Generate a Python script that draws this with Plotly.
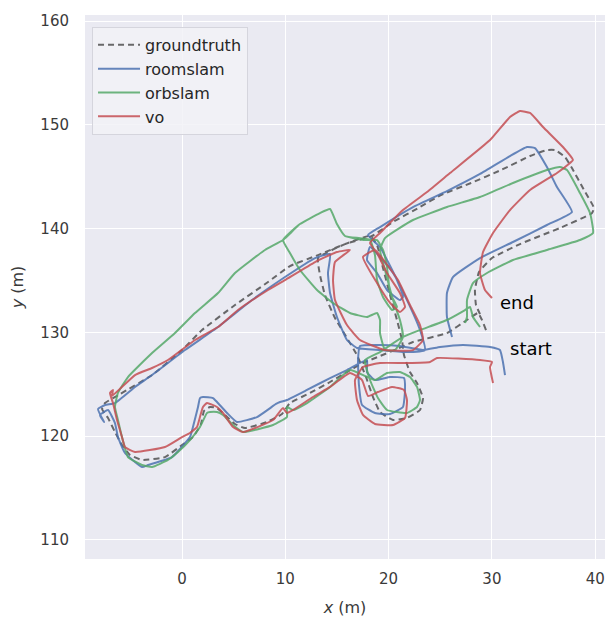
import plotly.graph_objects as go

# Trajectories in metres (x, y)
gt_x = [29.43, 29.04, 28.65, 27.59, 25.65, 22.36, 20.81, 19.17, 17.52, 15.97, 14.33, 12.39, 10.45, 9.68, 8.23, 6.10, 5.13, 4.16, 3.39, 2.71, 2.13, 1.84, 1.06, 0.00, -1.65, -3.87, -5.03, -5.81, -6.49, -7.16, -7.74, -7.45, -6.00, -2.90, 0.00, 1.94, 5.13, 8.33, 10.45, 13.17, 15.78, 18.20, 18.88, 19.46, 20.14, 20.81, 21.30, 21.49, 22.07, 22.75, 23.33, 23.04, 21.78, 20.43, 19.17, 18.49, 17.81, 16.94, 15.97, 14.81, 13.84, 13.36, 13.17, 15.78, 18.39, 20.43, 23.04, 25.07, 27.98, 30.88, 33.69, 35.33, 36.11, 37.08, 37.75, 38.92, 39.88, 39.69, 36.59, 32.72, 30.01, 28.75, 28.36, 28.46, 28.85]
gt_y = [130.22, 131.19, 131.86, 131.19, 129.93, 129.06, 128.39, 127.71, 127.04, 126.17, 125.21, 124.15, 123.18, 122.12, 121.35, 120.77, 121.16, 122.03, 122.70, 122.80, 122.41, 121.16, 119.90, 119.13, 117.97, 117.69, 118.17, 119.13, 120.39, 121.74, 122.60, 123.18, 124.05, 125.88, 128.29, 130.22, 132.63, 134.85, 136.39, 137.45, 138.51, 139.29, 138.42, 136.20, 133.60, 131.19, 129.26, 127.81, 126.17, 125.11, 123.66, 122.51, 121.74, 121.54, 122.31, 123.76, 125.69, 127.81, 129.45, 131.38, 133.60, 135.52, 137.16, 138.51, 139.29, 140.64, 142.08, 143.24, 144.40, 145.65, 147.00, 147.58, 147.58, 146.90, 145.84, 143.72, 141.99, 141.50, 140.06, 138.51, 137.16, 135.81, 134.08, 132.63, 131.76]

roomslam_x = [31.27, 31.07, 30.78, 29.82, 27.20, 24.98, 23.33, 21.10, 19.17, 17.23, 17.04, 17.13, 17.43, 18.68, 20.14, 21.39, 21.59, 21.49, 20.14, 18.68, 17.91, 17.91, 15.97, 14.33, 12.10, 10.16, 9.49, 9.10, 7.26, 5.32, 4.36, 3.39, 3.00, 2.03, 1.74, 1.55, 1.06, 0.77, -0.97, -3.29, -3.87, -5.52, -6.20, -6.49, -7.16, -7.94, -7.55, -8.13, -7.45, -6.49, -4.55, -2.90, 0.29, 3.49, 6.78, 9.97, 12.88, 14.33, 14.13, 14.33, 15.00, 15.97, 16.94, 19.17, 21.59, 23.52, 23.04, 21.78, 20.43, 19.17, 18.20, 17.91, 18.88, 19.85, 21.10, 21.39, 20.81, 19.85, 19.17, 18.01, 19.17, 22.36, 25.65, 28.85, 31.75, 33.40, 34.17, 35.33, 36.30, 37.75, 35.33, 32.04, 28.85, 26.23, 25.65, 25.65, 26.14]
roomslam_y = [125.88, 127.14, 128.29, 128.58, 128.78, 128.58, 128.29, 128.68, 128.78, 128.68, 127.33, 124.92, 122.99, 122.22, 122.12, 122.80, 124.44, 125.59, 125.69, 125.40, 126.17, 127.33, 126.36, 125.59, 124.44, 123.47, 123.28, 123.09, 121.83, 121.35, 122.22, 123.28, 123.66, 123.76, 123.66, 122.80, 120.87, 119.90, 117.97, 117.20, 117.01, 118.36, 119.90, 121.25, 122.51, 122.03, 121.35, 122.60, 122.99, 123.18, 124.73, 125.88, 128.29, 130.51, 133.11, 135.33, 137.16, 137.55, 135.72, 133.79, 131.48, 129.26, 128.49, 128.29, 128.10, 128.29, 130.22, 133.11, 135.72, 137.26, 138.23, 136.97, 135.72, 134.08, 133.11, 133.40, 135.04, 136.97, 138.23, 139.38, 140.15, 142.08, 143.62, 145.27, 147.00, 147.87, 147.77, 145.94, 144.01, 141.60, 140.35, 138.71, 137.16, 135.33, 133.79, 131.48, 129.55]

orbslam_x = [28.85, 28.17, 27.88, 27.40, 25.65, 23.04, 21.39, 19.17, 17.72, 18.20, 18.97, 19.85, 21.78, 22.75, 23.04, 22.75, 22.07, 21.10, 19.85, 18.68, 16.26, 14.33, 12.10, 10.75, 10.16, 10.16, 8.81, 5.91, 4.94, 3.97, 3.39, 2.71, 2.42, 1.74, 0.77, -0.39, -1.36, -2.90, -3.87, -5.23, -5.81, -6.20, -6.49, -6.20, -5.23, -2.90, -0.68, 1.26, 3.49, 5.13, 8.03, 9.78, 11.42, 13.36, 14.33, 15.00, 15.78, 17.72, 18.88, 19.46, 19.85, 20.14, 20.81, 20.33, 19.46, 18.88, 18.68, 18.20, 15.78, 15.00, 14.33, 13.36, 11.42, 9.78, 10.45, 11.42, 13.07, 14.62, 16.26, 17.91, 18.88, 19.17, 19.17, 19.65, 20.62, 21.39, 21.10, 20.43, 19.65, 19.17, 19.65, 22.36, 25.65, 28.85, 32.04, 35.33, 36.59, 37.27, 38.53, 39.50, 39.79, 38.53, 35.33, 32.04, 29.53, 28.17, 27.59, 27.59, 27.40]
orbslam_y = [130.51, 131.48, 132.44, 132.15, 131.19, 130.22, 129.55, 128.10, 127.33, 125.40, 123.66, 122.51, 122.22, 122.80, 123.47, 124.73, 125.69, 126.17, 126.08, 125.40, 126.36, 124.73, 123.18, 122.51, 122.80, 121.83, 121.06, 120.39, 121.06, 122.03, 122.31, 122.31, 122.22, 120.87, 119.61, 118.46, 117.69, 117.01, 117.20, 117.97, 119.90, 121.54, 122.80, 124.15, 125.69, 128.00, 129.93, 131.86, 133.79, 135.72, 137.94, 138.90, 140.44, 141.50, 141.89, 140.44, 139.29, 138.90, 138.90, 137.94, 136.30, 133.79, 132.44, 132.15, 133.40, 135.04, 137.45, 138.90, 139.29, 140.44, 141.89, 141.50, 140.44, 138.90, 137.65, 136.01, 134.08, 132.83, 131.86, 131.48, 131.86, 131.19, 129.93, 128.29, 128.29, 129.55, 131.19, 133.11, 136.01, 137.94, 139.09, 140.83, 142.08, 143.05, 144.40, 145.65, 145.94, 145.65, 143.43, 141.50, 139.58, 138.90, 137.94, 136.97, 135.72, 134.75, 133.11, 131.48, 130.90]

vo_x = [30.11, 29.82, 30.01, 28.85, 24.69, 24.01, 21.78, 19.17, 17.52, 16.75, 16.94, 17.52, 18.68, 20.43, 21.59, 21.78, 21.49, 20.33, 18.97, 18.01, 17.43, 16.26, 14.33, 12.68, 10.75, 10.16, 9.78, 8.81, 5.91, 4.94, 3.97, 3.39, 2.42, 2.03, 1.74, 1.45, 0.77, 0.00, -1.65, -4.55, -5.52, -5.81, -6.29, -6.68, -6.97, -6.68, -6.78, -4.55, -2.90, -1.36, 1.26, 3.49, 5.42, 8.33, 9.97, 12.88, 15.00, 16.26, 14.81, 14.62, 14.81, 15.97, 17.23, 19.65, 22.36, 23.33, 23.04, 22.07, 20.91, 19.65, 18.68, 17.52, 18.88, 20.14, 21.10, 21.59, 21.10, 19.85, 18.88, 18.20, 19.17, 21.39, 23.72, 25.94, 29.82, 31.75, 32.72, 33.69, 34.95, 36.88, 37.85, 37.56, 36.30, 33.69, 31.75, 30.11, 29.14, 28.85, 29.33, 30.01]
vo_y = [125.11, 126.65, 127.14, 127.33, 127.52, 127.14, 127.04, 127.04, 126.65, 125.40, 123.47, 122.03, 121.16, 121.06, 121.74, 123.47, 124.44, 124.73, 124.24, 123.86, 125.40, 126.08, 124.73, 123.76, 122.51, 122.22, 122.70, 121.54, 120.39, 120.87, 122.22, 122.80, 123.18, 122.80, 121.83, 120.87, 120.29, 119.90, 118.94, 118.46, 118.94, 119.90, 121.54, 123.18, 124.15, 124.44, 123.86, 125.88, 126.56, 127.33, 129.26, 130.51, 132.15, 134.08, 135.04, 136.78, 137.74, 137.94, 136.78, 135.04, 133.11, 130.70, 129.26, 128.29, 128.29, 129.26, 130.70, 132.63, 135.04, 136.78, 137.94, 137.26, 134.75, 132.83, 131.96, 132.44, 133.79, 135.72, 137.65, 138.61, 139.58, 141.79, 143.53, 145.36, 148.54, 150.76, 151.34, 151.15, 149.80, 147.87, 146.62, 146.33, 145.36, 143.72, 141.79, 139.58, 137.74, 135.72, 134.08, 133.31]

x_ticks = [0, 10, 20, 30, 40]
y_ticks = [110, 120, 130, 140, 150, 160]

FONT = "DejaVu Sans"

fig = go.Figure()

series = [
    ("groundtruth", gt_x, gt_y, "rgba(70,70,70,0.8)", "6px,4px"),
    ("roomslam", roomslam_x, roomslam_y, "rgba(76,114,176,0.85)", "solid"),
    ("orbslam", orbslam_x, orbslam_y, "rgba(85,168,104,0.85)", "solid"),
    ("vo", vo_x, vo_y, "rgba(196,78,82,0.85)", "solid"),
]
for name, xs, ys, color, dash in series:
    fig.add_trace(go.Scatter(
        x=xs, y=ys, mode="lines", name=name, legendgroup=name,
        line=dict(color=color, width=2, dash=dash, shape="spline", smoothing=0.4),
    ))

fig.add_annotation(x=30.6, y=132.9, text="end", showarrow=False,
                   xanchor="left", yanchor="middle",
                   font=dict(family=FONT, size=18, color="#000000"))
fig.add_annotation(x=31.55, y=128.4, text="start", showarrow=False,
                   xanchor="left", yanchor="middle",
                   font=dict(family=FONT, size=18, color="#000000"))

axis_common = dict(
    showgrid=True, gridcolor="#FFFFFF", gridwidth=1.2,
    zeroline=False, showline=False, ticks="",
    tickfont=dict(family=FONT, size=15, color="#3a3a3a"),
)

fig.update_xaxes(range=[-9.39, 40.95], tickvals=x_ticks,
                 title=dict(text="<i>x</i> (m)", font=dict(family=FONT, size=16, color="#3a3a3a"), standoff=14),
                 ticklabelstandoff=9, **axis_common)
fig.update_yaxes(range=[108.14, 160.6], tickvals=y_ticks,
                 title=dict(text="<i>y</i> (m)", font=dict(family=FONT, size=16, color="#3a3a3a"), standoff=12),
                 ticklabelstandoff=15, **axis_common)

fig.update_layout(
    width=608, height=618,
    margin=dict(l=85, r=3, t=15, b=59),
    paper_bgcolor="#FFFFFF", plot_bgcolor="#EAEAF2",
    font=dict(family=FONT, color="#262626"),
    showlegend=True,
    legend=dict(x=0.0135, y=0.978, xanchor="left", yanchor="top",
                bgcolor="rgba(242,242,247,0.85)", bordercolor="#D5D5DD", borderwidth=1,
                font=dict(family=FONT, size=16, color="#262626"),
                tracegroupgap=0, itemwidth=42),
)

fig.write_html("out.html", config={"displayModeBar": False})
